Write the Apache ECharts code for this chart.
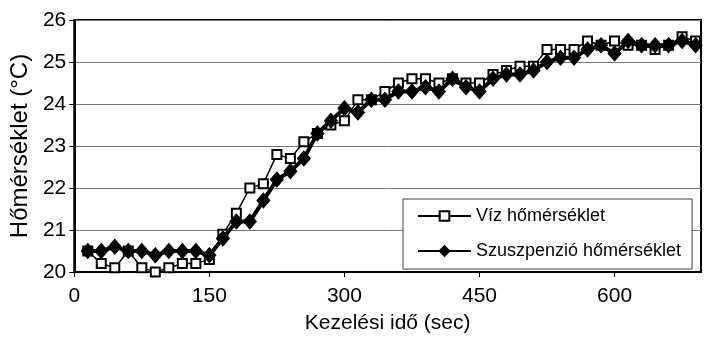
<!DOCTYPE html>
<html><head><meta charset="utf-8">
<script src="https://cdn.jsdelivr.net/npm/echarts@6/dist/echarts.min.js"></script>
<style>html,body{margin:0;padding:0;background:#fff}#c{width:707px;height:339px}</style>
</head><body><div id="c"></div>
<script>
// Time (sec)
const times = [15,30,45,60,75,90,105,120,135,150,165,180,195,210,225,240,255,270,285,300,
  315,330,345,360,375,390,405,420,435,450,465,480,495,510,525,540,555,570,585,600,
  615,630,645,660,675,690];
// Víz hőmérséklet (°C)
const vizTemp = [20.5,20.2,20.1,20.5,20.1,20.0,20.1,20.2,20.2,20.3,20.9,21.4,22.0,22.1,22.8,22.7,23.1,23.3,23.5,23.6,
  24.1,24.1,24.3,24.5,24.6,24.6,24.5,24.6,24.5,24.5,24.7,24.8,24.9,24.9,25.3,25.3,25.3,25.5,25.4,25.5,
  25.4,25.4,25.3,25.4,25.6,25.5];
// Szuszpenzió hőmérséklet (°C)
const szuszTemp = [20.5,20.5,20.6,20.5,20.5,20.4,20.5,20.5,20.5,20.4,20.8,21.2,21.2,21.7,22.2,22.4,22.7,23.3,23.6,23.9,
  23.8,24.1,24.1,24.3,24.3,24.4,24.3,24.6,24.4,24.3,24.6,24.7,24.7,24.8,25.0,25.1,25.1,25.3,25.4,25.2,
  25.5,25.4,25.4,25.4,25.5,25.4];
const seriesNames = ['Víz hőmérséklet', 'Szuszpenzió hőmérséklet'];
const xTitle = 'Kezelési idő (sec)';
const yTitle = 'Hőmérséklet (°C)';

const FONT = 'Liberation Sans, Arial, sans-serif';
const chart = echarts.init(document.getElementById('c'), null, {renderer: 'canvas'});
chart.setOption({
  animation: false,
  backgroundColor: '#fff',
  textStyle: {fontFamily: FONT, color: '#000'},
  grid: {left: 73, top: 20, right: 6, bottom: 62, show: true, borderColor: '#000', borderWidth: 2, backgroundColor: 'transparent'},
  legend: {
    orient: 'vertical', left: 403, top: 199,
    itemWidth: 53, itemHeight: 12, itemGap: 17,
    padding: [8, 11, 9, 14],
    backgroundColor: '#fff', borderColor: '#404040', borderWidth: 1,
    textStyle: {fontSize: 18, color: '#000', fontFamily: FONT},
    data: seriesNames
  },
  xAxis: {
    type: 'value', min: 0, max: 696, interval: 150,
    axisLine: {show: true, lineStyle: {color: '#000', width: 2}},
    axisTick: {show: true, length: 5, lineStyle: {color: '#000', width: 1}},
    axisLabel: {fontSize: 21, color: '#000', margin: 14, fontFamily: FONT, showMaxLabel: false},
    splitLine: {show: false},
    name: xTitle, nameLocation: 'middle', nameGap: 41,
    nameTextStyle: {fontSize: 21, color: '#000', fontFamily: FONT}
  },
  yAxis: {
    type: 'value', min: 20, max: 26, interval: 1,
    axisLine: {show: true, lineStyle: {color: '#000', width: 2}},
    axisTick: {show: true, length: 5, lineStyle: {color: '#000', width: 1}},
    axisLabel: {fontSize: 21, color: '#000', margin: 8, fontFamily: FONT},
    splitLine: {show: true, lineStyle: {color: '#777', width: 1}},
    name: yTitle, nameLocation: 'middle', nameGap: 41,
    nameTextStyle: {fontSize: 24, color: '#000', fontFamily: FONT}
  },
  series: [
    {
      name: seriesNames[0], type: 'line',
      data: times.map((t, i) => [t, vizTemp[i]]),
      symbol: 'rect', symbolSize: 9, showAllSymbol: true,
      itemStyle: {color: '#fff', borderColor: '#000', borderWidth: 2},
      lineStyle: {color: '#000', width: 1.5},
      z: 2
    },
    {
      name: seriesNames[1], type: 'line',
      data: times.map((t, i) => [t, szuszTemp[i]]),
      symbol: 'diamond', symbolSize: [13, 15], showAllSymbol: true,
      itemStyle: {color: '#000', borderColor: '#000', borderWidth: 1},
      lineStyle: {color: '#000', width: 4},
      z: 3
    }
  ]
});
</script>
</body></html>
